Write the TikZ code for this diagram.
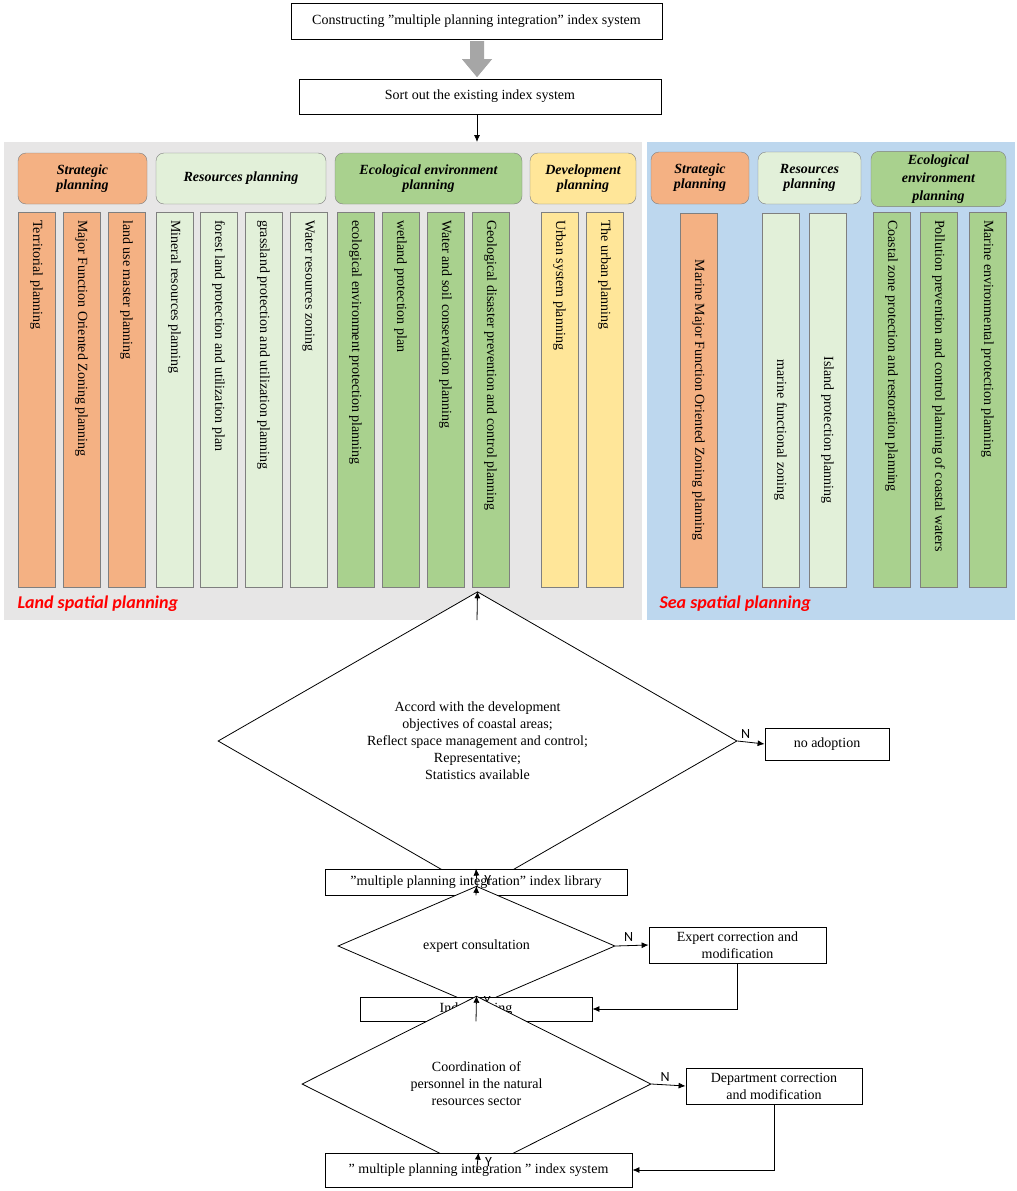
\documentclass[tikz,border=0pt]{standalone}
\usepackage{fontspec}
\setmainfont{Liberation Serif}
\newfontfamily\sansf{Carlito}
\usetikzlibrary{shapes.geometric,arrows.meta}
\definecolor{orgc}{HTML}{F4B183}
\definecolor{lgc}{HTML}{E2F0D9}
\definecolor{gc}{HTML}{A9D18E}
\definecolor{yc}{HTML}{FFE699}
\definecolor{landbg}{HTML}{E7E6E6}
\definecolor{seabg}{HTML}{BDD7EE}
\definecolor{edgec}{HTML}{7F7F7F}
\begin{document}
\begin{tikzpicture}[x=1pt,y=-1pt,
  box/.style={draw,thick,fill=white,font=\fontsize{14}{16}\selectfont},
  hdr/.style={draw=edgec,rounded corners=8pt,font=\fontsize{14}{15}\selectfont\bfseries\itshape,align=center},
  col/.style={draw=edgec},
  ctxt/.style={rotate=-90,anchor=west,font=\fontsize{14}{15}\selectfont,inner sep=0pt},
  ctxtc/.style={rotate=-90,anchor=center,font=\fontsize{14}{15}\selectfont,inner sep=0pt},
  arr/.style={-{Latex[length=7pt,width=6pt]},thick},
  dia/.style={draw,thick,fill=white,diamond,inner sep=0pt,align=center,font=\fontsize{14}{17}\selectfont},
  yn/.style={font=\sansf\fontsize{14}{15}\selectfont},
  big/.style={font=\sansf\fontsize{18}{20}\selectfont\bfseries\itshape,text=red,anchor=west}]
\useasboundingbox[fill=white] (0,0) rectangle (1017,1191);
% top boxes
\node[box,minimum width=371pt,minimum height=36pt] (b1) at (476.5,21) {Constructing "multiple planning integration" index system};
\node[box,minimum width=362pt,minimum height=35pt] (b2) at (480,96.5) {Sort out the existing index system};
\fill[gray!70] (470,41) rectangle (484,59) -- (462,59) -- (477,77) -- (492,59) -- (484,59);
\fill[gray!70] (462,59) -- (477,77) -- (492,59) -- cycle;
% panels
\fill[landbg] (4,142) rectangle (642,620);
\fill[seabg] (647,142) rectangle (1015,620);
\coordinate (ptop) at (477,142);
\coordinate (pbot) at (477,620);
\draw[arr] (b2.south -| ptop) -- (ptop);
% land headers
\node[hdr,fill=orgc,minimum width=129pt,minimum height=51pt] (h1) at (82.5,178.5) {Strategic\\planning};
\node[hdr,fill=lgc,minimum width=170pt,minimum height=51pt] (h2) at (241,178.5) {Resources planning};
\node[hdr,fill=gc,minimum width=187pt,minimum height=51pt] (h3) at (428.5,178.5) {Ecological environment\\planning};
\node[hdr,fill=yc,minimum width=106pt,minimum height=51pt] (h4) at (583,178.5) {Development\\planning};
% land columns
\foreach \x/\c/\t in {18/orgc/Territorial planning,63/orgc/Major Function Oriented Zoning planning,108/orgc/land use master planning,
  156/lgc/Mineral resources planning,200/lgc/forest land protection and utilization plan,245/lgc/grassland protection and utilization planning,290/lgc/Water resources zoning,
  337/gc/ecological environment protection planning,382/gc/wetland protection plan,427/gc/Water and soil conservation planning,472/gc/Geological disaster prevention and control planning,
  541/yc/Urban system planning,586/yc/The urban planning}{
  \draw[col,fill=\c] (\x,212) rectangle ++(37,375);
  \node[ctxt] at (\x+18.5,220) {\t};
}
\node[big] (lsp) at (14,604) {Land spatial planning};
% sea headers
\node[hdr,fill=orgc,minimum width=98pt,minimum height=52pt] (s1) at (700,178) {Strategic\\planning};
\node[hdr,fill=lgc,minimum width=103pt,minimum height=52pt] (s2) at (809.5,178) {Resources\\planning};
\node[hdr,fill=gc,minimum width=135pt,minimum height=54pt,font=\fontsize{14}{18}\selectfont\bfseries\itshape] (s3) at (938.5,179) {Ecological\\environment\\planning};
\draw[col,fill=orgc] (680,213) rectangle ++(37,374);
\node[ctxtc] at (698.5,400) {Marine Major Function Oriented Zoning planning};
\draw[col,fill=lgc] (762,213) rectangle ++(37,374);
\node[ctxtc] at (780.5,430) {marine functional zoning};
\draw[col,fill=lgc] (809,213) rectangle ++(37,374);
\node[ctxtc] at (827.5,430) {Island protection planning};
\foreach \x/\t in {873/Coastal zone protection and restoration planning,920/Pollution prevention and control planning of coastal waters,969/Marine environmental protection planning}{
  \draw[col,fill=gc] (\x,212) rectangle ++(37,375);
  \node[ctxt] at (\x+18.5,220) {\t};
}
\node[big] (ssp) at (656,604) {Sea spatial planning};
% flow
\node[dia,minimum width=519pt,minimum height=198pt] (d1) at (477.5,741) {Accord with the development\\objectives of coastal areas;\\Reflect space management and control;\\Representative;\\Statistics available};
\draw[arr] (pbot) -- (d1.north);
\node[box,minimum width=124pt,minimum height=32pt] (na) at (827,744) {no adoption};
\draw[arr] (d1.east) -- (na.west) node[yn,pos=0.3,above] {N};
\node[box,minimum width=302pt,minimum height=26pt] (lib) at (476,882) {"multiple planning integration" index library};
\draw[arr] (d1.south) -- (lib.north) node[yn,midway,right=4pt] {Y};
\node[dia,minimum width=277pt,minimum height=52pt] (d2) at (476.5,946) {expert consultation};
\draw[arr] (lib.south) -- (d2.north);
\node[box,minimum width=177pt,minimum height=36pt,align=center,font=\fontsize{14}{17}\selectfont] (ec) at (737.5,945) {Expert correction and\\modification};
\draw[arr] (d2.east) -- (ec.west) node[yn,pos=0.4,above] {N};
\node[box,minimum width=232pt,minimum height=24pt] (is) at (476,1009) {Index setting};
\draw[arr] (d2.south) -- (is.north) node[yn,midway,right=4pt] {Y};
\draw[arr] (ec.south) |- (is.east);
\node[dia,minimum width=349pt,minimum height=82pt] (d3) at (476.5,1084) {Coordination of\\personnel in the natural\\resources sector};
\draw[arr] (is.south) -- (d3.north);
\node[box,minimum width=176pt,minimum height=36pt,align=center,font=\fontsize{14}{17}\selectfont] (dc) at (774,1086) {Department correction\\and modification};
\draw[arr] (d3.east) -- (dc.west) node[yn,pos=0.4,above] {N};
\node[box,minimum width=307pt,minimum height=34pt] (fin) at (478.5,1170) {" multiple planning integration " index system};
\draw[arr] (d3.south) -- (fin.north) node[yn,midway,right=4pt] {Y};
\draw[arr] (dc.south) |- (fin.east);
\end{tikzpicture}
\end{document}
